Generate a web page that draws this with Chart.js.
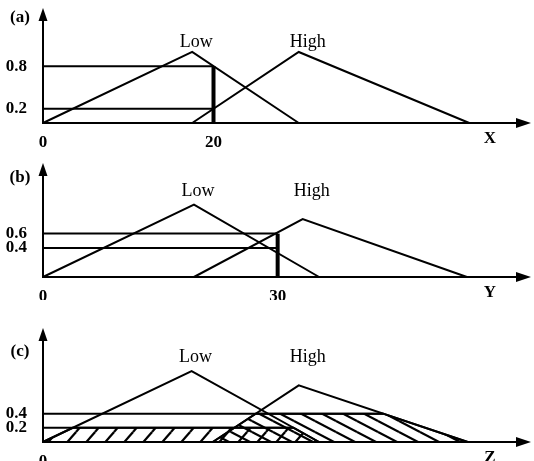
<!DOCTYPE html>
<html>
<head>
<meta charset="utf-8">
<script src="https://cdn.jsdelivr.net/npm/chart.js@4.4.1/dist/chart.umd.min.js"></script>
<style>
  html, body { margin: 0; padding: 0; background: #fff; }
  #wrap { position: relative; width: 534px; height: 461px; overflow: hidden; }
  canvas { position: absolute; left: 0; }
</style>
</head>
<body>
<div id="wrap">
  <canvas id="panelA" width="534" height="150" style="top:0"></canvas>
  <canvas id="panelB" width="534" height="150" style="top:150px"></canvas>
  <canvas id="panelC" width="534" height="161" style="top:300px"></canvas>
</div>
<script>
const setNames = ['Low', 'High'];

// (a) input X = 20 -> Low 0.8, High 0.2
const xTicksA = [0, 20];
const yTicksA = [0.8, 0.2];
const lowA = [[0, 0], [17.5, 1], [30, 0]];
const highA = [[17.5, 0], [30, 1], [50, 0]];
const inputA = 20;

// (b) input Y = 30 -> High 0.6, Low 0.4
const xTicksB = [0, 30];
const yTicksB = [0.6, 0.4];
const lowB = [[0, 0], [19.3, 1], [35.3, 0]];
const highB = [[19.3, 0], [33.2, 0.8], [54.2, 0]];
const inputB = 30;

// (c) output Z, Low cut at 0.2, High cut at 0.4
const xTicksC = [0];
const yTicksC = [0.4, 0.2];
const lowC = [[0, 0], [19, 1], [35.3, 0]];
const highC = [[21.7, 0], [32.7, 0.8], [54.3, 0]];
const cutC = [0.2, 0.4];

const black = '#000';
const serif = '"Liberation Serif", "Times New Roman", serif';

function pts(arr) {
  return arr.map(p => ({ x: p[0], y: p[1] }));
}

// trapezoid left after cutting a triangle at a level
function cutTriangle(tri, level) {
  const [a, p, b] = tri;
  const left = a[0] + (p[0] - a[0]) * (level / p[1]);
  const right = b[0] - (b[0] - p[0]) * (level / p[1]);
  return [[a[0], 0], [left, level], [right, level], [b[0], 0]];
}

function hatch(ctx, w, h, forward) {
  const c = document.createElement('canvas');
  c.width = w;
  c.height = h;
  const g = c.getContext('2d');
  g.strokeStyle = black;
  g.lineWidth = 2.2;
  for (const dx of [-w, 0, w]) {
    for (const dy of [-h, 0, h]) {
      g.beginPath();
      if (forward) {
        g.moveTo(dx, dy + h);
        g.lineTo(dx + w, dy);
      } else {
        g.moveTo(dx, dy);
        g.lineTo(dx + w, dy + h);
      }
      g.stroke();
    }
  }
  return ctx.createPattern(c, 'repeat');
}

function line(data, width) {
  return {
    data: pts(data),
    showLine: true,
    borderColor: black,
    borderWidth: width || 2,
    pointRadius: 0,
    fill: false,
    clip: false
  };
}

// arrows, panel letter, axis name and set names
const decor = {
  id: 'decor',
  afterDraw(chart, args, opts) {
    const { ctx, chartArea: ca, scales: { x, y } } = chart;
    ctx.save();
    ctx.fillStyle = black;
    ctx.beginPath();
    ctx.moveTo(ca.left, ca.top - 12);
    ctx.lineTo(ca.left - 4.5, ca.top + 1);
    ctx.lineTo(ca.left + 4.5, ca.top + 1);
    ctx.closePath();
    ctx.fill();
    ctx.beginPath();
    ctx.moveTo(ca.right + 14, ca.bottom);
    ctx.lineTo(ca.right - 1, ca.bottom - 5);
    ctx.lineTo(ca.right - 1, ca.bottom + 5);
    ctx.closePath();
    ctx.fill();

    ctx.textAlign = 'center';
    ctx.textBaseline = 'middle';
    ctx.font = 'bold 17px ' + serif;
    ctx.fillText(opts.panel, ca.left - 23, y.getPixelForValue(opts.panelLevel));
    ctx.fillText(opts.axis, ca.right - 27, ca.bottom + 16);
    ctx.font = '18px ' + serif;
    opts.peaks.forEach((pk, i) => {
      ctx.fillText(setNames[i], x.getPixelForValue(pk) + [4, 9][i], y.getPixelForValue(opts.nameLevel));
    });
    ctx.restore();
  }
};

function drawPanel(id, o) {
  const canvas = document.getElementById(id);
  const ctx = canvas.getContext('2d');
  const datasets = o.datasets(ctx);
  new Chart(ctx, {
    type: 'scatter',
    data: { datasets },
    plugins: [decor],
    options: {
      responsive: false,
      animation: false,
      layout: { padding: { top: o.padTop, right: 17, left: 0, bottom: 0 } },
      plugins: {
        legend: { display: false },
        tooltip: { enabled: false },
        decor: {
          panel: o.panel,
          panelLevel: o.panelLevel,
          axis: o.axis,
          peaks: o.peaks,
          nameLevel: o.nameLevel
        }
      },
      scales: {
        x: {
          type: 'linear',
          min: 0,
          max: o.xMax,
          grid: { display: false },
          border: { display: true, color: black, width: 2 },
          afterFit: s => { s.height = o.xAxisHeight; },
          afterBuildTicks: s => { s.ticks = o.xTicks.map(v => ({ value: v })); },
          ticks: {
            color: black,
            padding: 1,
            maxRotation: 0,
            autoSkip: false,
            font: { family: serif, size: 17, weight: 'bold' }
          }
        },
        y: {
          type: 'linear',
          min: 0,
          max: o.yMax,
          grid: { display: false },
          border: { display: true, color: black, width: 2 },
          afterFit: s => { s.width = 43; },
          afterBuildTicks: s => { s.ticks = o.yTicks.map(v => ({ value: v })); },
          ticks: {
            color: black,
            padding: 8,
            autoSkip: false,
            font: { family: serif, size: 17, weight: 'bold' }
          }
        }
      }
    }
  });
}

function guides(input, levels) {
  const out = levels.map(l => line([[0, l], [input, l]], 2));
  out.push(line([[input, 0], [input, Math.max(...levels)]], 4));
  return out;
}

drawPanel('panelA', {
  panel: '(a)', axis: 'X', panelLevel: 1.49, nameLevel: 1.13,
  xTicks: xTicksA, yTicks: yTicksA, xMax: 55.6, yMax: 1.45,
  padTop: 20, xAxisHeight: 27,
  peaks: [lowA[1][0], highA[1][0]],
  datasets: () => [line(lowA), line(highA)].concat(guides(inputA, yTicksA))
});

drawPanel('panelB', {
  panel: '(b)', axis: 'Y', panelLevel: 1.37, nameLevel: 1.19,
  xTicks: xTicksB, yTicks: yTicksB, xMax: 60.6, yMax: 1.41,
  padTop: 25, xAxisHeight: 23,
  peaks: [lowB[1][0], highB[1][0]],
  datasets: () => [line(lowB), line(highB)].concat(guides(inputB, yTicksB))
});

drawPanel('panelC', {
  panel: '(c)', axis: 'Z', panelLevel: 1.27, nameLevel: 1.2,
  xTicks: xTicksC, yTicks: yTicksC, xMax: 60.6, yMax: 1.44,
  padTop: 40, xAxisHeight: 19,
  peaks: [lowC[1][0], highC[1][0]],
  datasets: ctx => {
    const lowCut = cutTriangle(lowC, cutC[0]);
    const highCut = cutTriangle(highC, cutC[1]);
    const fillLow = line(lowCut, 0);
    fillLow.fill = 'origin';
    fillLow.backgroundColor = hatch(ctx, 19, 22, true);
    const fillHigh = line(highCut, 0);
    fillHigh.fill = 'origin';
    fillHigh.backgroundColor = hatch(ctx, 21, 11, false);
    return [
      fillLow, fillHigh,
      line(lowC), line(highC),
      line([[0, cutC[0]], [lowCut[2][0], cutC[0]]], 2),
      line([[0, cutC[1]], [highCut[2][0], cutC[1]]], 2)
    ];
  }
});
</script>
</body>
</html>
